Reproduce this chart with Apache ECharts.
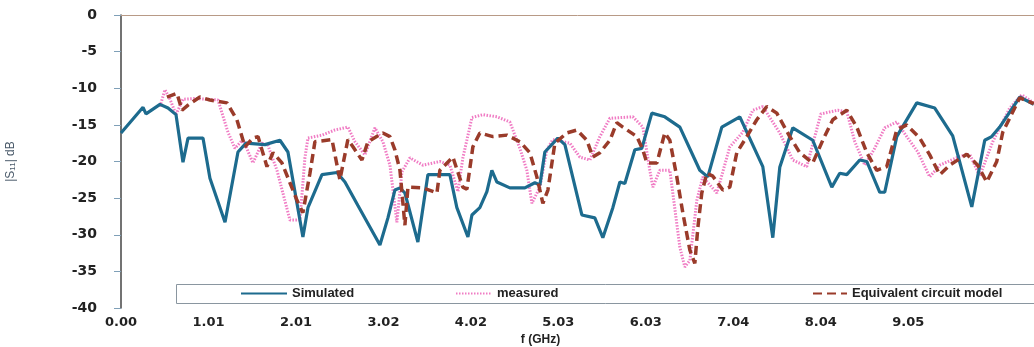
<!DOCTYPE html>
<html>
<head>
<meta charset="utf-8">
<title>S11</title>
<script src="https://cdn.jsdelivr.net/npm/echarts@6/dist/echarts.min.js"></script>
<style>
  html, body { margin: 0; padding: 0; background: #fff; }
  #chart { width: 1034px; height: 347px; }
</style>
</head>
<body>
<div id="chart"></div>
<script>
// frequency step of the sweep: 10 GHz / 199 points, labels every 20 points
var labelStep = 200 / 199;

// [f (GHz), |S11| dB]
var simulated = [
  [0.00,-16.1],[0.253,-12.6],[0.287,-13.5],[0.448,-12.2],[0.540,-12.7],[0.632,-13.6],
  [0.712,-20.1],[0.770,-16.8],[0.942,-16.8],[1.022,-22.3],[1.195,-28.3],[1.344,-18.7],
  [1.436,-17.5],[1.654,-17.7],[1.826,-17.1],[1.918,-18.7],[2.090,-30.3],[2.148,-26.3],
  [2.309,-21.8],[2.481,-21.5],[2.573,-22.8],[2.722,-26.0],[2.975,-31.4],[3.067,-27.7],
  [3.147,-23.9],[3.205,-23.6],[3.262,-24.3],[3.411,-31.0],[3.526,-21.8],[3.779,-21.8],
  [3.859,-26.3],[3.986,-30.3],[4.032,-27.3],[4.123,-26.3],[4.204,-24.1],[4.261,-21.2],
  [4.319,-22.8],[4.468,-23.6],[4.640,-23.6],[4.755,-22.9],[4.813,-23.2],[4.870,-18.7],
  [5.019,-16.8],[5.100,-17.7],[5.295,-27.3],[5.444,-27.7],[5.536,-30.4],[5.651,-26.3],
  [5.732,-22.8],[5.789,-23.0],[5.904,-18.4],[5.984,-18.2],[6.099,-13.4],[6.248,-13.9],
  [6.421,-15.3],[6.650,-21.2],[6.742,-22.1],[6.903,-15.3],[7.110,-13.9],[7.374,-20.7],
  [7.489,-30.4],[7.569,-20.8],[7.719,-15.4],[7.948,-17.1],[8.167,-23.5],[8.258,-21.6],
  [8.339,-21.8],[8.488,-19.8],[8.569,-20.0],[8.718,-24.2],[8.775,-24.2],[8.913,-16.6],
  [9.143,-12.0],[9.350,-12.7],[9.556,-16.5],[9.775,-26.2],[9.924,-17.1],[10.004,-16.6],
  [10.096,-15.3],[10.326,-11.2],[10.487,-12.2]
];
var measured = [
  [0.448,-12.5],[0.505,-10.2],[0.563,-11.5],[0.632,-13.6],[0.712,-11.5],[0.850,-11.4],
  [1.114,-11.6],[1.229,-16.0],[1.309,-18.2],[1.401,-17.0],[1.516,-20.2],[1.620,-17.5],
  [1.688,-17.8],[1.792,-21.2],[1.941,-28.0],[2.056,-28.0],[2.113,-19.5],[2.148,-16.8],
  [2.309,-16.4],[2.458,-15.7],[2.607,-15.3],[2.688,-17.3],[2.803,-19.1],[2.917,-15.4],
  [3.009,-17.3],[3.090,-20.5],[3.170,-28.3],[3.228,-21.4],[3.320,-19.5],[3.469,-20.5],
  [3.664,-20.0],[3.779,-20.5],[3.871,-24.1],[3.928,-19.5],[4.032,-14.0],[4.158,-13.6],
  [4.319,-13.9],[4.468,-14.6],[4.583,-18.2],[4.663,-21.2],[4.721,-25.7],[4.813,-23.5],
  [4.893,-18.4],[4.962,-17.0],[5.157,-17.5],[5.272,-19.4],[5.387,-19.8],[5.502,-16.6],
  [5.617,-14.1],[5.881,-13.9],[5.996,-15.3],[6.076,-21.2],[6.111,-23.5],[6.191,-21.2],
  [6.306,-21.2],[6.340,-24.3],[6.421,-31.7],[6.478,-34.4],[6.536,-33.5],[6.616,-25.3],
  [6.685,-22.1],[6.846,-24.3],[6.995,-18.0],[7.144,-16.0],[7.259,-13.0],[7.374,-12.5],
  [7.569,-16.1],[7.719,-19.8],[7.879,-20.7],[8.041,-13.5],[8.236,-13.0],[8.339,-13.2],
  [8.431,-17.3],[8.546,-20.5],[8.660,-18.2],[8.775,-15.4],[8.913,-14.6],[9.040,-16.8],
  [9.155,-18.7],[9.292,-22.1],[9.407,-20.5],[9.637,-19.3],[9.752,-19.0],[9.866,-22.0],
  [10.016,-17.3],[10.211,-12.7],[10.349,-10.9],[10.487,-12.0]
];
var circuitModel = [
  [0.528,-11.2],[0.643,-10.7],[0.701,-13.0],[0.770,-12.3],[0.907,-11.2],[1.022,-11.6],
  [1.218,-12.0],[1.332,-14.3],[1.424,-18.0],[1.516,-16.8],[1.574,-16.6],[1.677,-20.7],
  [1.746,-18.8],[1.849,-20.2],[1.941,-22.9],[2.022,-25.3],[2.090,-27.0],[2.171,-21.6],
  [2.228,-17.3],[2.424,-17.0],[2.515,-22.5],[2.607,-17.0],[2.665,-18.0],[2.768,-19.8],
  [2.837,-17.3],[3.009,-16.1],[3.090,-16.6],[3.147,-18.4],[3.205,-21.2],[3.262,-28.7],
  [3.297,-23.5],[3.469,-23.6],[3.630,-24.3],[3.664,-21.2],[3.813,-19.4],[3.928,-23.5],
  [3.974,-23.8],[4.043,-18.0],[4.123,-16.1],[4.273,-16.6],[4.434,-16.4],[4.583,-17.3],
  [4.698,-18.8],[4.778,-22.1],[4.847,-25.7],[4.905,-23.9],[4.985,-17.5],[5.123,-16.1],
  [5.238,-15.7],[5.353,-17.1],[5.421,-19.4],[5.502,-18.8],[5.617,-17.1],[5.697,-14.7],
  [5.766,-15.3],[5.927,-16.6],[5.996,-18.4],[6.042,-20.2],[6.157,-20.2],[6.248,-16.1],
  [6.306,-17.1],[6.386,-22.1],[6.455,-27.0],[6.536,-32.1],[6.593,-33.9],[6.628,-29.0],
  [6.673,-24.3],[6.731,-21.6],[6.800,-22.0],[6.915,-23.9],[6.995,-23.5],[7.075,-18.8],
  [7.190,-16.6],[7.305,-14.3],[7.420,-12.5],[7.535,-13.4],[7.684,-16.6],[7.799,-18.8],
  [7.948,-20.2],[8.063,-17.1],[8.178,-14.3],[8.339,-13.0],[8.454,-15.3],[8.569,-18.8],
  [8.683,-21.2],[8.798,-20.7],[8.913,-15.7],[9.028,-15.0],[9.177,-16.8],[9.292,-19.1],
  [9.407,-21.8],[9.522,-20.5],[9.717,-19.0],[9.843,-20.5],[9.947,-22.8],[10.062,-20.0],
  [10.131,-16.0],[10.326,-11.3],[10.487,-12.1]
];
var seriesNames = ['Simulated', 'measured', 'Equivalent circuit model'];

var chart = echarts.init(document.getElementById('chart'));
var font = 'Liberation Sans, Arial, sans-serif';
var wideFont = 'DejaVu Sans, Verdana, sans-serif';

function legendAt(name, left, width) {
  return {
    data: [name], left: left, top: 287, itemWidth: width, itemHeight: 12, itemGap: 4,
    itemStyle: { opacity: 0 },
    textStyle: { fontFamily: font, fontWeight: 'bold', fontSize: 13, color: '#222' },
    selectedMode: false, padding: 0
  };
}

var option = {
  animation: false,
  backgroundColor: '#fff',
  grid: { left: 121, top: 15, right: 0, bottom: 39, containLabel: false, outerBoundsMode: 'none' },
  legend: [
    legendAt(seriesNames[0], 240, 46),
    legendAt(seriesNames[1], 455, 36),
    legendAt(seriesNames[2], 812, 34)
  ],
  graphic: [{
    type: 'rect', left: 176, top: 284, z: 0,
    shape: { width: 880, height: 19 },
    style: { fill: '#fff', stroke: '#8a96a0', lineWidth: 1 }
  }],
  xAxis: {
    type: 'value', min: 0, max: 10.49, interval: labelStep,
    name: 'f (GHz)', nameLocation: 'middle', nameGap: 21,
    nameTextStyle: { fontFamily: font, fontWeight: 'bold', fontSize: 12, color: '#222', padding: [0, 74, 0, 0] },
    axisLine: { show: true, lineStyle: { color: '#b89a86', width: 1 } },
    axisTick: { show: false },
    splitLine: { show: false },
    axisLabel: {
      margin: 8, fontFamily: wideFont, fontWeight: 'bold', fontSize: 13, color: '#222',
      formatter: function (v) { return v > 10 ? '' : v.toFixed(2); }
    }
  },
  yAxis: {
    type: 'value', min: -40, max: 0, interval: 5,
    name: '|S{sub|11}| dB', nameLocation: 'middle', nameGap: 104, nameRotate: 90,
    nameTextStyle: {
      fontFamily: font, fontSize: 12, color: '#4a5a6a',
      rich: { sub: { fontSize: 8, verticalAlign: 'bottom', padding: [4, 0, 0, 0], color: '#4a5a6a', fontFamily: font } }
    },
    axisLine: { show: true, lineStyle: { color: '#444', width: 1.5 } },
    axisTick: { show: true, inside: false, length: 7, lineStyle: { color: '#7fa0b8' } },
    splitLine: { show: false },
    axisLabel: { margin: 24, fontFamily: wideFont, fontWeight: 'bold', fontSize: 14, color: '#222' }
  },
  series: [
    {
      name: seriesNames[0], type: 'line', data: simulated, showSymbol: false, symbol: 'none', z: 3,
      lineStyle: { color: '#1d6b8e', width: 3.2 }, itemStyle: { color: '#1d6b8e' }
    },
    {
      name: seriesNames[1], type: 'line', data: measured, showSymbol: false, symbol: 'none', z: 2,
      lineStyle: { color: '#f07cc4', width: 3, type: [1.5, 1.5] }, itemStyle: { color: '#f07cc4' }
    },
    {
      name: seriesNames[2], type: 'line', data: circuitModel, showSymbol: false, symbol: 'none', z: 4,
      lineStyle: { color: '#9a3b2a', width: 3.5, type: [9, 5] }, itemStyle: { color: '#9a3b2a' }
    }
  ]
};
chart.setOption(option);
</script>
</body>
</html>
